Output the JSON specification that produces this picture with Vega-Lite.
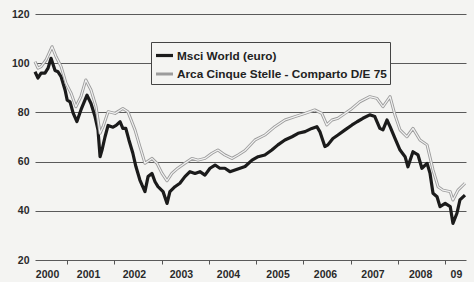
{
  "$schema": "https://vega.github.io/schema/vega-lite/v6.json",
  "autosize": {"type": "none"},
  "width": 431,
  "height": 246,
  "padding": {"left": 35, "top": 14, "right": 8, "bottom": 22},
  "background": "#f4f4f2",
  "config": {
    "view": {"stroke": null},
    "font": "Liberation Sans, Arial, sans-serif"
  },
  "data": {"values": [
    {"date": "2000-04-27", "series": "Msci World (euro)", "value": 96.5},
    {"date": "2000-05-20", "series": "Msci World (euro)", "value": 94},
    {"date": "2000-06-13", "series": "Msci World (euro)", "value": 96},
    {"date": "2000-07-13", "series": "Msci World (euro)", "value": 96},
    {"date": "2000-08-06", "series": "Msci World (euro)", "value": 98},
    {"date": "2000-08-29", "series": "Msci World (euro)", "value": 102},
    {"date": "2000-09-29", "series": "Msci World (euro)", "value": 97},
    {"date": "2000-10-22", "series": "Msci World (euro)", "value": 96.5},
    {"date": "2000-11-15", "series": "Msci World (euro)", "value": 94.5},
    {"date": "2000-12-16", "series": "Msci World (euro)", "value": 89},
    {"date": "2001-01-01", "series": "Msci World (euro)", "value": 85},
    {"date": "2001-01-23", "series": "Msci World (euro)", "value": 84.3},
    {"date": "2001-02-16", "series": "Msci World (euro)", "value": 79.7},
    {"date": "2001-03-17", "series": "Msci World (euro)", "value": 76.3},
    {"date": "2001-04-17", "series": "Msci World (euro)", "value": 81},
    {"date": "2001-05-18", "series": "Msci World (euro)", "value": 85},
    {"date": "2001-06-03", "series": "Msci World (euro)", "value": 87},
    {"date": "2001-07-04", "series": "Msci World (euro)", "value": 83.6},
    {"date": "2001-08-04", "series": "Msci World (euro)", "value": 78.3},
    {"date": "2001-08-27", "series": "Msci World (euro)", "value": 72.9},
    {"date": "2001-09-12", "series": "Msci World (euro)", "value": 62},
    {"date": "2001-09-27", "series": "Msci World (euro)", "value": 64.7},
    {"date": "2001-10-20", "series": "Msci World (euro)", "value": 70},
    {"date": "2001-11-13", "series": "Msci World (euro)", "value": 74.7},
    {"date": "2001-12-21", "series": "Msci World (euro)", "value": 74},
    {"date": "2002-01-14", "series": "Msci World (euro)", "value": 74.7},
    {"date": "2002-02-14", "series": "Msci World (euro)", "value": 76.2},
    {"date": "2002-03-07", "series": "Msci World (euro)", "value": 73.5},
    {"date": "2002-03-30", "series": "Msci World (euro)", "value": 73.5},
    {"date": "2002-04-23", "series": "Msci World (euro)", "value": 68.8},
    {"date": "2002-05-23", "series": "Msci World (euro)", "value": 63.5},
    {"date": "2002-06-16", "series": "Msci World (euro)", "value": 58},
    {"date": "2002-07-17", "series": "Msci World (euro)", "value": 52.5},
    {"date": "2002-08-02", "series": "Msci World (euro)", "value": 50.5},
    {"date": "2002-08-25", "series": "Msci World (euro)", "value": 47.8},
    {"date": "2002-09-18", "series": "Msci World (euro)", "value": 53.9},
    {"date": "2002-10-18", "series": "Msci World (euro)", "value": 55.2},
    {"date": "2002-11-11", "series": "Msci World (euro)", "value": 51.8},
    {"date": "2002-12-04", "series": "Msci World (euro)", "value": 49.8},
    {"date": "2003-01-12", "series": "Msci World (euro)", "value": 47.8},
    {"date": "2003-02-12", "series": "Msci World (euro)", "value": 43},
    {"date": "2003-03-06", "series": "Msci World (euro)", "value": 47.8},
    {"date": "2003-04-14", "series": "Msci World (euro)", "value": 49.8},
    {"date": "2003-05-22", "series": "Msci World (euro)", "value": 51.2},
    {"date": "2003-06-30", "series": "Msci World (euro)", "value": 53.9},
    {"date": "2003-08-08", "series": "Msci World (euro)", "value": 55.9},
    {"date": "2003-09-16", "series": "Msci World (euro)", "value": 55.2},
    {"date": "2003-10-24", "series": "Msci World (euro)", "value": 55.9},
    {"date": "2003-12-02", "series": "Msci World (euro)", "value": 54.5},
    {"date": "2004-01-10", "series": "Msci World (euro)", "value": 57.3},
    {"date": "2004-02-18", "series": "Msci World (euro)", "value": 58.6},
    {"date": "2004-03-26", "series": "Msci World (euro)", "value": 57.3},
    {"date": "2004-05-04", "series": "Msci World (euro)", "value": 57.3},
    {"date": "2004-06-12", "series": "Msci World (euro)", "value": 55.9},
    {"date": "2004-07-21", "series": "Msci World (euro)", "value": 56.6},
    {"date": "2004-08-29", "series": "Msci World (euro)", "value": 57.3},
    {"date": "2004-10-07", "series": "Msci World (euro)", "value": 58},
    {"date": "2004-11-30", "series": "Msci World (euro)", "value": 60.6},
    {"date": "2005-01-16", "series": "Msci World (euro)", "value": 62},
    {"date": "2005-03-09", "series": "Msci World (euro)", "value": 62.7},
    {"date": "2005-05-02", "series": "Msci World (euro)", "value": 64.7},
    {"date": "2005-06-18", "series": "Msci World (euro)", "value": 66.8},
    {"date": "2005-08-11", "series": "Msci World (euro)", "value": 68.8},
    {"date": "2005-10-05", "series": "Msci World (euro)", "value": 70.1},
    {"date": "2005-11-21", "series": "Msci World (euro)", "value": 71.5},
    {"date": "2006-01-14", "series": "Msci World (euro)", "value": 72.2},
    {"date": "2006-03-07", "series": "Msci World (euro)", "value": 73.5},
    {"date": "2006-04-15", "series": "Msci World (euro)", "value": 74.2},
    {"date": "2006-05-08", "series": "Msci World (euro)", "value": 72.2},
    {"date": "2006-06-16", "series": "Msci World (euro)", "value": 66.1},
    {"date": "2006-07-09", "series": "Msci World (euro)", "value": 66.8},
    {"date": "2006-08-17", "series": "Msci World (euro)", "value": 69.4},
    {"date": "2006-09-25", "series": "Msci World (euro)", "value": 70.8},
    {"date": "2006-11-19", "series": "Msci World (euro)", "value": 72.9},
    {"date": "2007-01-12", "series": "Msci World (euro)", "value": 74.9},
    {"date": "2007-02-20", "series": "Msci World (euro)", "value": 76.2},
    {"date": "2007-04-06", "series": "Msci World (euro)", "value": 77.6},
    {"date": "2007-05-29", "series": "Msci World (euro)", "value": 79},
    {"date": "2007-07-07", "series": "Msci World (euro)", "value": 78.3},
    {"date": "2007-08-15", "series": "Msci World (euro)", "value": 73.5},
    {"date": "2007-09-08", "series": "Msci World (euro)", "value": 72.9},
    {"date": "2007-10-09", "series": "Msci World (euro)", "value": 76.9},
    {"date": "2007-11-02", "series": "Msci World (euro)", "value": 74.2},
    {"date": "2007-12-10", "series": "Msci World (euro)", "value": 69.4},
    {"date": "2008-01-18", "series": "Msci World (euro)", "value": 64.7},
    {"date": "2008-02-26", "series": "Msci World (euro)", "value": 62},
    {"date": "2008-03-19", "series": "Msci World (euro)", "value": 57.9},
    {"date": "2008-04-27", "series": "Msci World (euro)", "value": 64},
    {"date": "2008-06-05", "series": "Msci World (euro)", "value": 62.7},
    {"date": "2008-07-05", "series": "Msci World (euro)", "value": 57.3},
    {"date": "2008-08-14", "series": "Msci World (euro)", "value": 59.3},
    {"date": "2008-09-06", "series": "Msci World (euro)", "value": 55.2},
    {"date": "2008-09-29", "series": "Msci World (euro)", "value": 47.1},
    {"date": "2008-10-30", "series": "Msci World (euro)", "value": 45.7},
    {"date": "2008-11-22", "series": "Msci World (euro)", "value": 41.7},
    {"date": "2009-01-01", "series": "Msci World (euro)", "value": 43},
    {"date": "2009-02-09", "series": "Msci World (euro)", "value": 41.7},
    {"date": "2009-03-02", "series": "Msci World (euro)", "value": 34.9},
    {"date": "2009-04-02", "series": "Msci World (euro)", "value": 39},
    {"date": "2009-04-25", "series": "Msci World (euro)", "value": 44.4},
    {"date": "2009-06-03", "series": "Msci World (euro)", "value": 46.4},
    {"date": "2000-04-27", "series": "Arca Cinque Stelle - Comparto D/E 75", "value": 100.6},
    {"date": "2000-05-20", "series": "Arca Cinque Stelle - Comparto D/E 75", "value": 98},
    {"date": "2000-06-13", "series": "Arca Cinque Stelle - Comparto D/E 75", "value": 98.6},
    {"date": "2000-07-21", "series": "Arca Cinque Stelle - Comparto D/E 75", "value": 101.3},
    {"date": "2000-09-06", "series": "Arca Cinque Stelle - Comparto D/E 75", "value": 106.7},
    {"date": "2000-10-07", "series": "Arca Cinque Stelle - Comparto D/E 75", "value": 102.6},
    {"date": "2000-11-15", "series": "Arca Cinque Stelle - Comparto D/E 75", "value": 98.6},
    {"date": "2000-12-23", "series": "Arca Cinque Stelle - Comparto D/E 75", "value": 91.8},
    {"date": "2001-02-01", "series": "Arca Cinque Stelle - Comparto D/E 75", "value": 87.7},
    {"date": "2001-03-09", "series": "Arca Cinque Stelle - Comparto D/E 75", "value": 82.3},
    {"date": "2001-04-17", "series": "Arca Cinque Stelle - Comparto D/E 75", "value": 86.4},
    {"date": "2001-05-25", "series": "Arca Cinque Stelle - Comparto D/E 75", "value": 93.2},
    {"date": "2001-07-04", "series": "Arca Cinque Stelle - Comparto D/E 75", "value": 89.1},
    {"date": "2001-08-12", "series": "Arca Cinque Stelle - Comparto D/E 75", "value": 82.3},
    {"date": "2001-09-12", "series": "Arca Cinque Stelle - Comparto D/E 75", "value": 71.5},
    {"date": "2001-10-05", "series": "Arca Cinque Stelle - Comparto D/E 75", "value": 74.2},
    {"date": "2001-11-13", "series": "Arca Cinque Stelle - Comparto D/E 75", "value": 80.3},
    {"date": "2002-01-06", "series": "Arca Cinque Stelle - Comparto D/E 75", "value": 79.6},
    {"date": "2002-03-07", "series": "Arca Cinque Stelle - Comparto D/E 75", "value": 81.6},
    {"date": "2002-04-15", "series": "Arca Cinque Stelle - Comparto D/E 75", "value": 80.3},
    {"date": "2002-06-09", "series": "Arca Cinque Stelle - Comparto D/E 75", "value": 72.9},
    {"date": "2002-07-17", "series": "Arca Cinque Stelle - Comparto D/E 75", "value": 66.1},
    {"date": "2002-08-02", "series": "Arca Cinque Stelle - Comparto D/E 75", "value": 63.4},
    {"date": "2002-08-25", "series": "Arca Cinque Stelle - Comparto D/E 75", "value": 59.3},
    {"date": "2002-10-18", "series": "Arca Cinque Stelle - Comparto D/E 75", "value": 61.3},
    {"date": "2002-11-26", "series": "Arca Cinque Stelle - Comparto D/E 75", "value": 59.3},
    {"date": "2003-01-04", "series": "Arca Cinque Stelle - Comparto D/E 75", "value": 55.2},
    {"date": "2003-02-12", "series": "Arca Cinque Stelle - Comparto D/E 75", "value": 52.2},
    {"date": "2003-03-21", "series": "Arca Cinque Stelle - Comparto D/E 75", "value": 55.2},
    {"date": "2003-05-06", "series": "Arca Cinque Stelle - Comparto D/E 75", "value": 57.3},
    {"date": "2003-06-30", "series": "Arca Cinque Stelle - Comparto D/E 75", "value": 59.3},
    {"date": "2003-08-23", "series": "Arca Cinque Stelle - Comparto D/E 75", "value": 61.3},
    {"date": "2003-10-09", "series": "Arca Cinque Stelle - Comparto D/E 75", "value": 60.6},
    {"date": "2003-12-02", "series": "Arca Cinque Stelle - Comparto D/E 75", "value": 61.3},
    {"date": "2004-01-25", "series": "Arca Cinque Stelle - Comparto D/E 75", "value": 63.4},
    {"date": "2004-03-11", "series": "Arca Cinque Stelle - Comparto D/E 75", "value": 64.7},
    {"date": "2004-05-04", "series": "Arca Cinque Stelle - Comparto D/E 75", "value": 62.7},
    {"date": "2004-06-28", "series": "Arca Cinque Stelle - Comparto D/E 75", "value": 61.3},
    {"date": "2004-08-14", "series": "Arca Cinque Stelle - Comparto D/E 75", "value": 62.7},
    {"date": "2004-10-07", "series": "Arca Cinque Stelle - Comparto D/E 75", "value": 64.5},
    {"date": "2004-12-23", "series": "Arca Cinque Stelle - Comparto D/E 75", "value": 68.8},
    {"date": "2005-03-09", "series": "Arca Cinque Stelle - Comparto D/E 75", "value": 70.8},
    {"date": "2005-05-25", "series": "Arca Cinque Stelle - Comparto D/E 75", "value": 74.2},
    {"date": "2005-08-11", "series": "Arca Cinque Stelle - Comparto D/E 75", "value": 76.9},
    {"date": "2005-10-28", "series": "Arca Cinque Stelle - Comparto D/E 75", "value": 78.3},
    {"date": "2006-01-14", "series": "Arca Cinque Stelle - Comparto D/E 75", "value": 79.6},
    {"date": "2006-03-30", "series": "Arca Cinque Stelle - Comparto D/E 75", "value": 81},
    {"date": "2006-05-23", "series": "Arca Cinque Stelle - Comparto D/E 75", "value": 79.6},
    {"date": "2006-07-01", "series": "Arca Cinque Stelle - Comparto D/E 75", "value": 74.9},
    {"date": "2006-08-10", "series": "Arca Cinque Stelle - Comparto D/E 75", "value": 76.9},
    {"date": "2006-09-25", "series": "Arca Cinque Stelle - Comparto D/E 75", "value": 77.6},
    {"date": "2006-11-19", "series": "Arca Cinque Stelle - Comparto D/E 75", "value": 79.6},
    {"date": "2007-01-12", "series": "Arca Cinque Stelle - Comparto D/E 75", "value": 81.6},
    {"date": "2007-03-13", "series": "Arca Cinque Stelle - Comparto D/E 75", "value": 84.3},
    {"date": "2007-05-29", "series": "Arca Cinque Stelle - Comparto D/E 75", "value": 86.4},
    {"date": "2007-07-23", "series": "Arca Cinque Stelle - Comparto D/E 75", "value": 85.7},
    {"date": "2007-09-08", "series": "Arca Cinque Stelle - Comparto D/E 75", "value": 82.3},
    {"date": "2007-11-02", "series": "Arca Cinque Stelle - Comparto D/E 75", "value": 86.4},
    {"date": "2007-12-10", "series": "Arca Cinque Stelle - Comparto D/E 75", "value": 78.9},
    {"date": "2008-01-18", "series": "Arca Cinque Stelle - Comparto D/E 75", "value": 72.9},
    {"date": "2008-03-11", "series": "Arca Cinque Stelle - Comparto D/E 75", "value": 70.1},
    {"date": "2008-04-27", "series": "Arca Cinque Stelle - Comparto D/E 75", "value": 73.5},
    {"date": "2008-06-20", "series": "Arca Cinque Stelle - Comparto D/E 75", "value": 68.8},
    {"date": "2008-08-14", "series": "Arca Cinque Stelle - Comparto D/E 75", "value": 66.8},
    {"date": "2008-09-29", "series": "Arca Cinque Stelle - Comparto D/E 75", "value": 56.6},
    {"date": "2008-11-07", "series": "Arca Cinque Stelle - Comparto D/E 75", "value": 49.8},
    {"date": "2008-12-15", "series": "Arca Cinque Stelle - Comparto D/E 75", "value": 48.4},
    {"date": "2009-02-09", "series": "Arca Cinque Stelle - Comparto D/E 75", "value": 47.8},
    {"date": "2009-03-02", "series": "Arca Cinque Stelle - Comparto D/E 75", "value": 44.4},
    {"date": "2009-04-10", "series": "Arca Cinque Stelle - Comparto D/E 75", "value": 48.4},
    {"date": "2009-06-03", "series": "Arca Cinque Stelle - Comparto D/E 75", "value": 51.2}
  ]},
  "encoding": {
    "y": {
      "field": "value",
      "type": "quantitative",
      "scale": {"domain": [20, 120], "nice": false, "zero": false},
      "axis": {
        "title": null,
        "values": [20, 40, 60, 80, 100, 120],
        "grid": true,
        "gridColor": "#5a5a5a",
        "gridWidth": 1.1,
        "gridOpacity": 1,
        "domain": false,
        "ticks": false,
        "labelPadding": 6,
        "labelFont": "Liberation Sans, Arial, sans-serif",
        "labelFontWeight": "bold",
        "labelFontSize": 10.5,
        "labelColor": "#2a2a2a"
      }
    }
  },
  "layer": [
    {
      "mark": {"type": "line", "strokeJoin": "round"},
      "encoding": {
        "x": {
          "field": "date",
          "type": "temporal",
          "scale": {"domain": [{"year": 2000, "month": 4, "date": 27}, {"year": 2009, "month": 6, "date": 11}]},
          "axis": {
            "orient": "bottom",
            "title": null,
            "grid": false,
            "domain": false,
            "labels": false,
            "ticks": true,
            "tickSize": 4,
            "tickColor": "#555555",
            "values": [
              {"year": 2001, "month": 1, "date": 1},
              {"year": 2002, "month": 1, "date": 1},
              {"year": 2003, "month": 1, "date": 1},
              {"year": 2004, "month": 1, "date": 1},
              {"year": 2005, "month": 1, "date": 1},
              {"year": 2006, "month": 1, "date": 1},
              {"year": 2007, "month": 1, "date": 1},
              {"year": 2008, "month": 1, "date": 1},
              {"year": 2009, "month": 1, "date": 1}
            ]
          }
        },
        "color": {
          "field": "series",
          "type": "nominal",
          "scale": {
            "domain": ["Msci World (euro)", "Arca Cinque Stelle - Comparto D/E 75"],
            "range": ["#1b1b1b", "#9c9c9c"]
          },
          "legend": {
            "title": null,
            "orient": "none",
            "legendX": 116,
            "legendY": 28,
            "padding": 3,
            "rowPadding": 1,
            "fillColor": "#f4f4f2",
            "strokeColor": "#444444",
            "symbolType": "stroke",
            "symbolSize": 289,
            "labelOffset": 2,
            "labelLimit": 400,
            "labelFont": "Liberation Sans, Arial, sans-serif",
            "labelFontWeight": "bold",
            "labelFontSize": 11.8,
            "labelColor": "#222222"
          }
        },
        "strokeWidth": {
          "field": "series",
          "type": "nominal",
          "scale": {
            "domain": ["Msci World (euro)", "Arca Cinque Stelle - Comparto D/E 75"],
            "range": [3.2, 3]
          },
          "legend": null
        }
      }
    },
    {
      "transform": [{"filter": "datum.series === 'Arca Cinque Stelle - Comparto D/E 75'"}],
      "mark": {"type": "line", "color": "#f2f2f2", "strokeWidth": 1.2, "strokeJoin": "round"},
      "encoding": {
        "x": {
          "field": "date",
          "type": "temporal",
          "axis": {
            "orient": "bottom",
            "title": null,
            "grid": false,
            "domain": false,
            "ticks": false,
            "labelPadding": 9,
            "labelFont": "Liberation Sans, Arial, sans-serif",
            "labelFontWeight": "bold",
            "labelFontSize": 10.5,
            "labelColor": "#2a2a2a",
            "labelOverlap": false,
            "labelFlush": false,
            "values": [
              {"year": 2000, "month": 7, "date": 29},
              {"year": 2001, "month": 6, "date": 11},
              {"year": 2002, "month": 6, "date": 1},
              {"year": 2003, "month": 5, "date": 30},
              {"year": 2004, "month": 5, "date": 28},
              {"year": 2005, "month": 6, "date": 15},
              {"year": 2006, "month": 6, "date": 17},
              {"year": 2007, "month": 6, "date": 19},
              {"year": 2008, "month": 6, "date": 21},
              {"year": 2009, "month": 3, "date": 25}
            ],
            "labelExpr": "year(datum.value) === 2009 ? '09' : timeFormat(datum.value, '%Y')"
          }
        }
      }
    }
  ],
  "resolve": {"axis": {"x": "independent"}}
}
